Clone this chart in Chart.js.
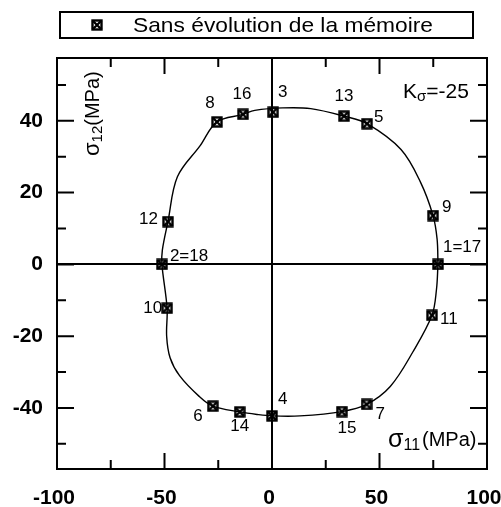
<!DOCTYPE html>
<html>
<head>
<meta charset="utf-8">
<script src="https://cdn.jsdelivr.net/npm/chart.js@4/dist/chart.umd.min.js"></script>
<style>
  html, body { margin: 0; padding: 0; background: #fff; }
  #wrap { width: 501px; height: 507px; }
</style>
</head>
<body>
<div id="wrap"><canvas id="chart" width="501" height="507"></canvas></div>
<script>
// points mesurés (numéros des trajets)
const ptNames = ['1=17', '9', '5', '13', '3', '16', '8', '12', '2=18', '10', '6', '14', '4', '15', '7', '11'];
const ptX = [77.2, 74.9, 44.2, 33.5, 0.5, -13.5, -25.6, -48.4, -51.2, -48.8, -27.5, -15, 0, 32.5, 44, 74.4];
const ptY = [0, 13.6, 39.2, 41.3, 42.4, 41.8, 39.7, 11.9, 0, -12.2, -39.5, -41.1, -42.2, -41, -39, -14.2];

// courbe de charge (contour)
const curveX = [77.2, 76.8, 74.9, 69, 60, 44.2, 33.5, 18, 5, -8, -13.5, -25.6, -33.5, -44, -48.4, -51, -51.2, -48.8, -49, -47.4, -43, -34, -27.5, -15, -7, 0, 13, 32.5, 44, 55, 65.5, 74.4, 76.5, 77.2];
const curveY = [0, 7, 13.6, 23, 32, 39.2, 41.3, 43.4, 43.6, 42.9, 41.8, 39.7, 33, 24.4, 11.9, 4, 0, -12.2, -20, -26, -31, -36.7, -39.5, -41.1, -41.8, -42.2, -42.2, -41, -39, -34, -24.4, -14.2, -7, 0];

const xTicks = [-100, -75, -50, -25, 0, 25, 50, 75, 100];
const yTicks = [-50, -40, -30, -20, -10, 0, 10, 20, 30, 40, 50];
const seriesLabel = 'Sans évolution de la mémoire';

const FONT = '"Liberation Sans", Arial, sans-serif';

// marqueur carré barré
const marker = document.createElement('canvas');
marker.width = 12;
marker.height = 12;
(function() {
    const m = marker.getContext('2d');
    m.strokeStyle = '#000';
    m.lineWidth = 2.4;
    m.strokeRect(1.5, 1.5, 9, 9);
    m.beginPath();
    m.moveTo(1.5, 1.5); m.lineTo(10.5, 10.5);
    m.moveTo(10.5, 1.5); m.lineTo(1.5, 10.5);
    m.stroke();
})();

// décalage des étiquettes : dx, dy, alignement
const labelPos = [
    [5, -17, 'left'], [9, -8, 'left'], [7, -6, 'left'], [0, -20, 'center'],
    [5, -20, 'left'], [-1, -20, 'center'], [-7, -19, 'center'], [-10, -2, 'right'],
    [8, -8, 'left'], [-5, 0, 'right'], [-15, 10, 'center'], [0, 14, 'center'],
    [6, -17, 'left'], [5, 17, 'center'], [9, 10, 'left'], [8, 4, 'left']
];

function drawParts(ctx, parts, x, y) {
    ctx.textAlign = 'left';
    ctx.textBaseline = 'middle';
    parts.forEach(function(p) {
        ctx.font = (p.w || 'normal') + ' ' + p.size + 'px ' + FONT;
        ctx.fillText(p.t, x, y + (p.dy || 0));
        x += ctx.measureText(p.t).width + (p.gap || 0);
    });
}

const decorPlugin = {
    id: 'decor',
    afterDraw: function(chart) {
        const ctx = chart.ctx;
        const a = chart.chartArea;
        const xs = chart.scales.x, ys = chart.scales.y;
        ctx.save();
        ctx.strokeStyle = '#000';
        ctx.fillStyle = '#000';
        ctx.lineWidth = 2;

        // cadre
        ctx.strokeRect(a.left, a.top, a.right - a.left, a.bottom - a.top);

        // graduations intérieures
        ctx.beginPath();
        xTicks.forEach(function(v) {
            const px = xs.getPixelForValue(v);
            const len = v % 50 === 0 ? 16 : 9;
            ctx.moveTo(px, a.bottom); ctx.lineTo(px, a.bottom - len);
            ctx.moveTo(px, a.top); ctx.lineTo(px, a.top + len);
        });
        yTicks.forEach(function(v) {
            const py = ys.getPixelForValue(v);
            const len = v % 20 === 0 ? 17 : 9;
            ctx.moveTo(a.left, py); ctx.lineTo(a.left + len, py);
            ctx.moveTo(a.right, py); ctx.lineTo(a.right - len, py);
        });
        ctx.stroke();

        // numéros des points
        ctx.font = '17px ' + FONT;
        ctx.textBaseline = 'middle';
        ptNames.forEach(function(name, i) {
            const px = xs.getPixelForValue(ptX[i]);
            const py = ys.getPixelForValue(ptY[i]);
            const p = labelPos[i];
            ctx.textAlign = p[2];
            ctx.fillText(name, px + p[0], py + p[1]);
        });

        // K sigma
        drawParts(ctx, [
            { t: 'K', size: 21 },
            { t: 'σ', size: 15, dy: 5 },
            { t: '=-25', size: 21 }
        ], 403, 92);

        // titre axe x
        drawParts(ctx, [
            { t: 'σ', size: 25 },
            { t: '11', size: 16, dy: 6, gap: 2 },
            { t: '(MPa)', size: 20 }
        ], 388, 440);

        // titre axe y (vertical)
        ctx.translate(93, 156);
        ctx.rotate(-Math.PI / 2);
        drawParts(ctx, [
            { t: 'σ', size: 22 },
            { t: '12', size: 15, dy: 5 },
            { t: '(MPa)', size: 20 }
        ], 0, 0);
        ctx.restore();

        // légende encadrée
        ctx.save();
        ctx.strokeStyle = '#000';
        ctx.lineWidth = 2;
        ctx.strokeRect(60, 12, 413, 26);
        ctx.drawImage(marker, 91, 19);
        ctx.fillStyle = '#000';
        ctx.font = '21px ' + FONT;
        ctx.textAlign = 'left';
        ctx.textBaseline = 'middle';
        const txt = chart.data.datasets[1].label;
        const w = ctx.measureText(txt).width;
        ctx.translate(133, 26);
        ctx.scale(300 / w, 1);
        ctx.fillText(txt, 0, 0);
        ctx.restore();
    }
};

const ctx = document.getElementById('chart');
new Chart(ctx, {
    type: 'scatter',
    data: {
        datasets: [
            {
                label: 'courbe',
                data: curveX.map(function(x, i) { return { x: x, y: curveY[i] }; }),
                showLine: true,
                borderColor: '#000',
                borderWidth: 1.4,
                pointRadius: 0,
                tension: 0.35
            },
            {
                label: seriesLabel,
                data: ptX.map(function(x, i) { return { x: x, y: ptY[i] }; }),
                pointStyle: marker,
                pointRadius: 6,
                showLine: false
            }
        ]
    },
    options: {
        responsive: false,
        animation: false,
        layout: { padding: { top: 58, right: 14, left: 0, bottom: 0 } },
        plugins: {
            legend: { display: false },
            tooltip: { enabled: false }
        },
        scales: {
            x: {
                type: 'linear',
                min: -100,
                max: 100,
                afterBuildTicks: function(s) { s.ticks = xTicks.map(function(v) { return { value: v }; }); },
                afterFit: function(s) { s.height = 38; s.paddingLeft = 0; s.paddingRight = 0; },
                border: { display: false },
                grid: {
                    drawTicks: false,
                    lineWidth: 2,
                    color: function(c) { return c.tick && c.tick.value === 0 ? '#000' : 'rgba(0,0,0,0)'; }
                },
                ticks: {
                    autoSkip: false,
                    maxRotation: 0,
                    padding: 17,
                    labelOffset: -3,
                    color: '#000',
                    font: { family: FONT, size: 21, weight: 'bold' },
                    callback: function(v) { return v % 50 === 0 ? v : ''; }
                }
            },
            y: {
                type: 'linear',
                min: -57,
                max: 57.5,
                afterBuildTicks: function(s) { s.ticks = yTicks.map(function(v) { return { value: v }; }); },
                afterFit: function(s) { s.width = 57; s.paddingTop = 0; s.paddingBottom = 0; },
                border: { display: false },
                grid: {
                    drawTicks: false,
                    lineWidth: 2,
                    color: function(c) { return c.tick && c.tick.value === 0 ? '#000' : 'rgba(0,0,0,0)'; }
                },
                ticks: {
                    padding: 14,
                    color: '#000',
                    font: { family: FONT, size: 21, weight: 'bold' },
                    callback: function(v) { return v % 20 === 0 ? v : ''; }
                }
            }
        }
    },
    plugins: [decorPlugin]
});
</script>
</body>
</html>
